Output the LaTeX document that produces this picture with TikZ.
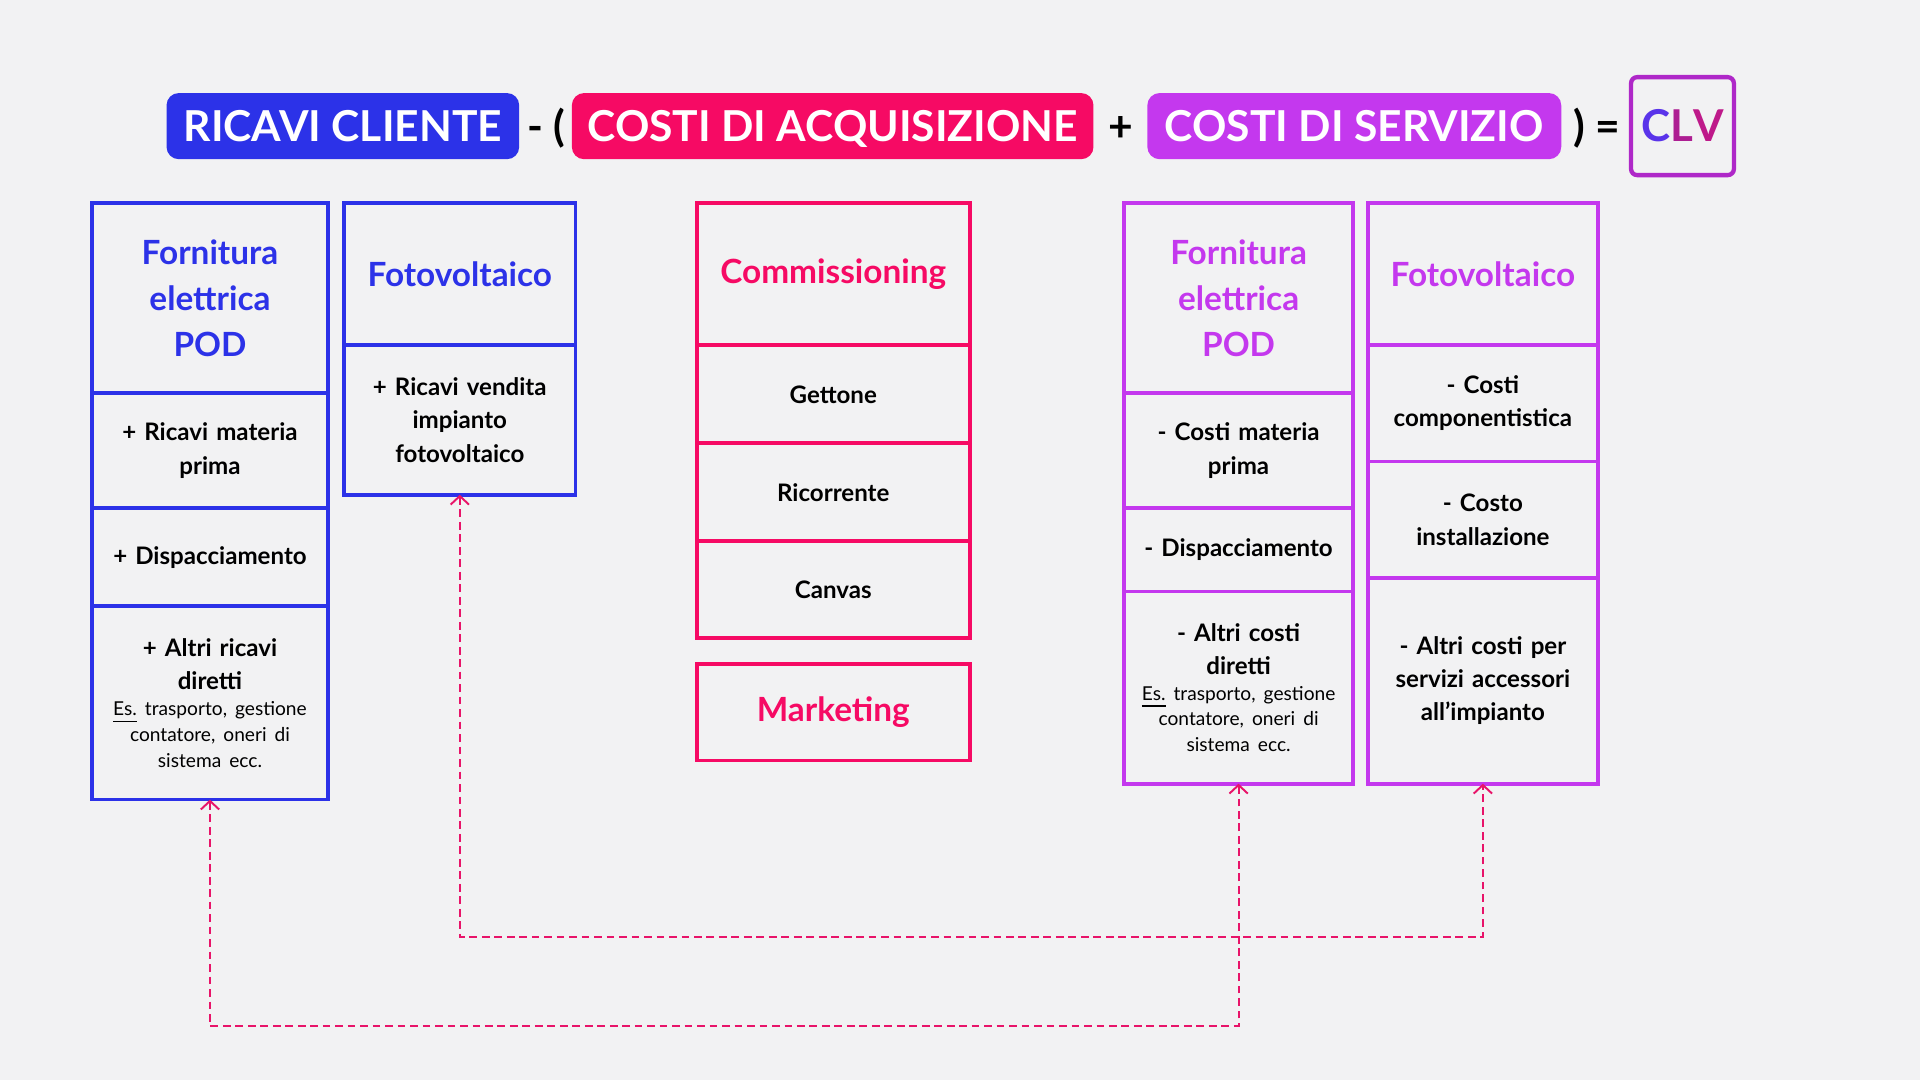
\documentclass[tikz,border=0pt]{standalone}
\usepackage{fontspec}
\setmainfont{Lato}
\newfontfamily\esfamily{Lato}[WordSpace=0.8]
\usetikzlibrary{positioning, arrows.meta}

\definecolor{clvblue}{RGB}{44,50,232}
\definecolor{clvpink}{RGB}{246,10,100}
\definecolor{clvpurple}{RGB}{196,56,238}
\definecolor{clvbg}{RGB}{242,242,243}
\definecolor{clvlink}{RGB}{232,20,105}
\definecolor{clvframe}{RGB}{175,40,200}

\hyphenpenalty=10000
\exhyphenpenalty=10000
\newcommand{\esfont}{\esfamily\fontsize{4.45}{6}\selectfont\mdseries}

\begin{document}
\begin{tikzpicture}[
        node distance=0pt,
        pill/.style={
            rectangle,
            rounded corners=1mm,
            minimum height=0.54cm,
            inner sep=0pt,
            text height=7.1pt,
            text depth=0pt,
            text=white,
            font=\fontsize{9.9}{12}\selectfont\bfseries
        },
        op/.style={inner sep=0pt, text height=7.1pt, text depth=0pt, font=\fontsize{9.9}{12}\selectfont\bfseries},
        cell/.style={
            rectangle,
            draw,
            line width=0.85pt,
            outer sep=0pt,
            inner xsep=0.05cm,
            inner ysep=0pt,
            align=center,
            font=\fontsize{5.6}{7.7}\selectfont\bfseries
        },
        bluecell/.style={cell, draw=clvblue},
        pinkcell/.style={cell, draw=clvpink},
        purplecell/.style={cell, draw=clvpurple},
        head/.style={font=\fontsize{7.75}{10.6}\selectfont\bfseries},
        colA/.style={minimum width=1.93cm, text width=1.83cm},
        colB/.style={minimum width=1.89cm, text width=1.79cm},
        colC/.style={minimum width=2.23cm, text width=2.13cm},
        colD/.style={minimum width=1.87cm, text width=1.77cm},
        colE/.style={minimum width=1.88cm, text width=1.78cm},
        link/.style={draw=clvlink, line width=0.45pt, dash pattern=on 1.8pt off 1.1pt,
            {Straight Barb[length=0.7mm, width=1.5mm]}-{Straight Barb[length=0.7mm, width=1.5mm]}}
    ]

    \fill[clvbg] (0,0) rectangle (15.68,8.82);
    \useasboundingbox (0,0) rectangle (15.68,8.82);

    % --- Formula ---
    \node[pill, fill=clvblue, minimum width=2.88cm] (ricavi) at (2.80,7.79) {RICAVI CLIENTE};
    \node[op] (minus) at (4.46,7.79) {- (};
    \node[pill, fill=clvpink, minimum width=4.26cm] (acq) at (6.80,7.79) {COSTI DI ACQUISIZIONE};
    \node[op] (plus) at (9.15,7.79) {+};
    \node[pill, fill=clvpurple, minimum width=3.38cm] (serv) at (11.06,7.79) {COSTI DI SERVIZIO};
    \node[op] (equals) at (13.04,7.79) {) =};
    \node[draw=clvframe, line width=1pt, rounded corners=0.5mm, inner sep=0pt, minimum width=0.84cm, minimum height=0.80cm,
        text height=7.1pt, text depth=0pt, font=\fontsize{10.2}{12}\selectfont\bfseries] (clv) at (13.74,7.79)
        {\textcolor{clvblue!70!clvpurple}{C}\textcolor{clvpurple!60!clvpink!80!black}{L}\textcolor{clvpink!55!clvpurple!85!black}{V}};

    % --- Ricavi ---
    \node[bluecell, colA, head, text=clvblue, minimum height=1.55cm, anchor=north] (fb1) at (1.715,7.16) {Fornitura\\elettrica\\POD};
    \node[bluecell, colA, minimum height=0.94cm, below=of fb1] (fb2) {+ Ricavi materia\\prima};
    \node[bluecell, colA, minimum height=0.80cm, below=of fb2] (fb3) {+ Dispacciamento};
    \node[bluecell, colA, minimum height=1.58cm, below=of fb3] (fb4) {
        + Altri ricavi\\diretti\par
        {\esfont\underline{Es.} trasporto, gestione\\contatore, oneri di\\sistema ecc.\par}
    };

    \node[bluecell, colB, head, text=clvblue, minimum height=1.16cm, below right=0cm and 0.13cm of fb1.north east] (fv1) {Fotovoltaico};
    \node[bluecell, colB, minimum height=1.22cm, below=of fv1] (fv2) {+ Ricavi vendita\\impianto\\fotovoltaico};

    % --- Acquisizione ---
    \node[pinkcell, colC, head, text=clvpink, minimum height=1.16cm, below right=0cm and 0.99cm of fv1.north east] (pc1) {Commissioning};
    \node[pinkcell, colC, minimum height=0.80cm, below=of pc1] (pc2) {Gettone};
    \node[pinkcell, colC, minimum height=0.80cm, below=of pc2] (pc3) {Ricorrente};
    \node[pinkcell, colC, minimum height=0.79cm, below=of pc3] (pc4) {Canvas};
    \node[pinkcell, colC, head, text=clvpink, minimum height=0.79cm, below=0.21cm of pc4] (mkt) {Marketing};

    % --- Servizio ---
    \node[purplecell, colD, head, text=clvpurple, minimum height=1.55cm, below right=0cm and 1.26cm of pc1.north east] (pb1) {Fornitura\\elettrica\\POD};
    \node[purplecell, colD, minimum height=0.94cm, below=of pb1] (pb2) {- Costi materia\\prima};
    \node[purplecell, colD, minimum height=0.68cm, below=of pb2] (pb3) {- Dispacciamento};
    \node[purplecell, colD, minimum height=1.57cm, below=of pb3] (pb4) {
        - Altri costi\\diretti\par
        {\esfont\underline{Es.} trasporto, gestione\\contatore, oneri di\\sistema ecc.\par}
    };

    \node[purplecell, colE, head, text=clvpurple, minimum height=1.16cm, below right=0cm and 0.12cm of pb1.north east] (pv1) {Fotovoltaico};
    \node[purplecell, colE, minimum height=0.95cm, below=of pv1] (pv2) {- Costi\\componentistica};
    \node[purplecell, colE, minimum height=0.95cm, below=of pv2] (pv3) {- Costo\\installazione};
    \node[purplecell, colE, minimum height=1.68cm, below=of pv3] (pv4) {- Altri costi per\\servizi accessori\\all’impianto};

    % --- Links ---
    \draw[link] (fb4.south) -- ++(0,-1.85) -| (pb4.south);
    \draw[link] (fv2.south) -- ++(0,-3.61) -| (pv4.south);

\end{tikzpicture}
\end{document}
